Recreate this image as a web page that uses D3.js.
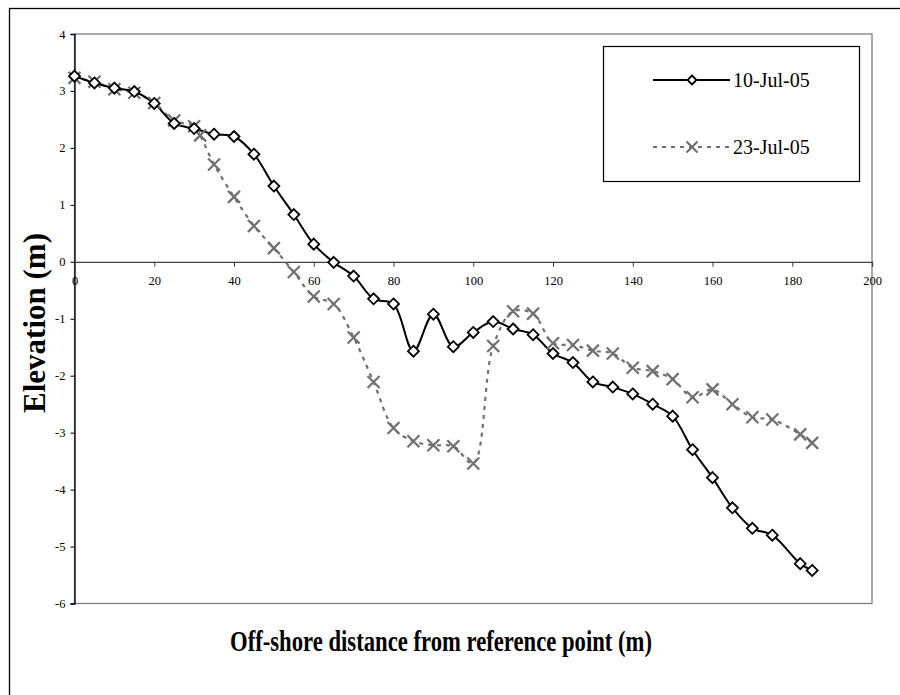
<!DOCTYPE html>
<html>
<head>
<meta charset="utf-8">
<script src="https://cdn.jsdelivr.net/npm/d3@7"></script>
<style>
  body { margin: 0; background: #fff; }
  svg { display: block; }
  text { font-family: "Liberation Serif", "Times New Roman", serif; }
</style>
</head>
<body>
<div id="chart"></div>
<script>
const seriesNames = ["10-Jul-05", "23-Jul-05"];

const dist1 = [0, 5, 10, 15, 20, 25, 30, 35, 40, 45, 50, 55, 60, 65, 70, 75, 80, 85, 90, 95,
  100, 105, 110, 115, 120, 125, 130, 135, 140, 145, 150, 155, 160, 165, 170, 175, 182, 185];
const elev1 = [3.26, 3.14, 3.05, 2.99, 2.78, 2.43, 2.34, 2.24, 2.2, 1.89, 1.33, 0.83, 0.31, -0.01, -0.25, -0.65, -0.74, -1.57, -0.92, -1.49,
  -1.24, -1.05, -1.18, -1.28, -1.61, -1.77, -2.11, -2.2, -2.32, -2.5, -2.71, -3.3, -3.79, -4.32, -4.68, -4.8, -5.3, -5.42];

const dist2 = [0, 5, 10, 15, 20, 25, 30, 31.5, 35, 40, 45, 50, 55, 60, 65, 70, 75, 80, 85, 90, 95,
  100, 105, 110, 115, 120, 125, 130, 135, 140, 145, 150, 155, 160, 165, 170, 175, 182, 185];
const elev2 = [3.23, 3.16, 3.03, 2.97, 2.79, 2.48, 2.38, 2.22, 1.71, 1.14, 0.63, 0.24, -0.18, -0.61, -0.74, -1.33, -2.11, -2.92, -3.15, -3.22, -3.24,
  -3.54, -1.48, -0.87, -0.91, -1.43, -1.46, -1.56, -1.61, -1.86, -1.92, -2.06, -2.38, -2.24, -2.5, -2.73, -2.77, -3.03, -3.18];

const xTicks = [0, 20, 40, 60, 80, 100, 120, 140, 160, 180, 200];
const yTicks = [4, 3, 2, 1, 0, -1, -2, -3, -4, -5, -6];

const W = 900, H = 695;
const plot = { left: 74.5, right: 872, top: 34, bottom: 603.5 };
const serif = '"Liberation Serif", "Times New Roman", serif';

const svg = d3.select("#chart").append("svg").attr("width", W).attr("height", H);

// outer chart frame (runs off the right/bottom edge)
svg.append("rect").attr("x", 9.5).attr("y", 8.5).attr("width", 900).attr("height", 700)
  .attr("fill", "#fff").attr("stroke", "#000").attr("stroke-width", 1.3);

const x = d3.scaleLinear().domain([0, 200]).range([plot.left, plot.right]);
const y = d3.scaleLinear().domain([-6, 4]).range([plot.bottom, plot.top]);

// plot area border
svg.append("rect")
  .attr("x", plot.left).attr("y", plot.top)
  .attr("width", plot.right - plot.left).attr("height", plot.bottom - plot.top)
  .attr("fill", "none").attr("stroke", "#808080").attr("stroke-width", 1.3);

// y axis
const yAxis = svg.append("g").attr("transform", `translate(${plot.left},0)`)
  .call(d3.axisLeft(y).tickValues(yTicks).tickSize(4).tickPadding(5))
  .attr("font-family", serif).attr("font-size", 12.5);
yAxis.select(".domain").attr("stroke", "#000").attr("stroke-width", 1.3);
yAxis.selectAll(".tick line").attr("stroke", "#000");
yAxis.selectAll(".tick text").attr("fill", "#000").text(d => String(d));

// x axis crosses at y = 0
const xAxis = svg.append("g").attr("transform", `translate(0,${y(0)})`)
  .call(d3.axisBottom(x).tickValues(xTicks).tickSize(5).tickPadding(9))
  .attr("font-family", serif).attr("font-size", 12.5);
xAxis.select(".domain").attr("stroke", "#404040").attr("stroke-width", 1.3);
xAxis.selectAll(".tick line").attr("stroke", "#404040");
xAxis.selectAll(".tick text").attr("fill", "#000").text(d => String(d));

// series
const pts1 = dist1.map((d, i) => [d, elev1[i]]);
const pts2 = dist2.map((d, i) => [d, elev2[i]]);

const line = d3.line().x(d => x(d[0])).y(d => y(d[1])).curve(d3.curveCatmullRom.alpha(0.5));

svg.append("path").datum(pts2).attr("d", line)
  .attr("fill", "none").attr("stroke", "#707070").attr("stroke-width", 2.2)
  .attr("stroke-dasharray", "4,5");

svg.append("path").datum(pts1).attr("d", line)
  .attr("fill", "none").attr("stroke", "#000").attr("stroke-width", 2);

const cross = (g, cx, cy, r) => {
  g.append("path")
    .attr("d", `M${cx - r},${cy - r}L${cx + r},${cy + r}M${cx - r},${cy + r}L${cx + r},${cy - r}`)
    .attr("stroke", "#707070").attr("stroke-width", 2.2).attr("fill", "none");
};
const diamond = (g, cx, cy, r) => {
  g.append("path")
    .attr("d", `M${cx},${cy - r}L${cx + r},${cy}L${cx},${cy + r}L${cx - r},${cy}Z`)
    .attr("stroke", "#000").attr("stroke-width", 1.8).attr("fill", "#fff");
};

const m2 = svg.append("g");
pts2.forEach(p => cross(m2, x(p[0]), y(p[1]), 6));
const m1 = svg.append("g");
pts1.forEach(p => diamond(m1, x(p[0]), y(p[1]), 5.5));

// legend
const lg = svg.append("g");
lg.append("rect").attr("x", 603.5).attr("y", 46.5).attr("width", 256).attr("height", 135)
  .attr("fill", "#fff").attr("stroke", "#000").attr("stroke-width", 1.2);

lg.append("line").attr("x1", 653).attr("x2", 730).attr("y1", 80).attr("y2", 80)
  .attr("stroke", "#000").attr("stroke-width", 2);
diamond(lg, 692, 80, 4.5);
lg.append("text").attr("x", 733).attr("y", 80).attr("dy", "0.33em")
  .attr("font-size", 20).text(seriesNames[0]);

lg.append("line").attr("x1", 653).attr("x2", 730).attr("y1", 147).attr("y2", 147)
  .attr("stroke", "#707070").attr("stroke-width", 2.2).attr("stroke-dasharray", "4,5");
cross(lg, 692, 147, 5.5);
lg.append("text").attr("x", 733).attr("y", 147).attr("dy", "0.33em")
  .attr("font-size", 20).text(seriesNames[1]);

// axis titles
svg.append("text").attr("x", 441).attr("y", 651).attr("text-anchor", "middle")
  .attr("font-size", 29).attr("font-weight", "bold")
  .attr("textLength", 422).attr("lengthAdjust", "spacingAndGlyphs")
  .text("Off-shore distance from reference point (m)");

svg.append("text").attr("transform", "translate(45,323) rotate(-90)")
  .attr("text-anchor", "middle").attr("font-size", 31).attr("font-weight", "bold")
  .text("Elevation (m)");
</script>
</body>
</html>
